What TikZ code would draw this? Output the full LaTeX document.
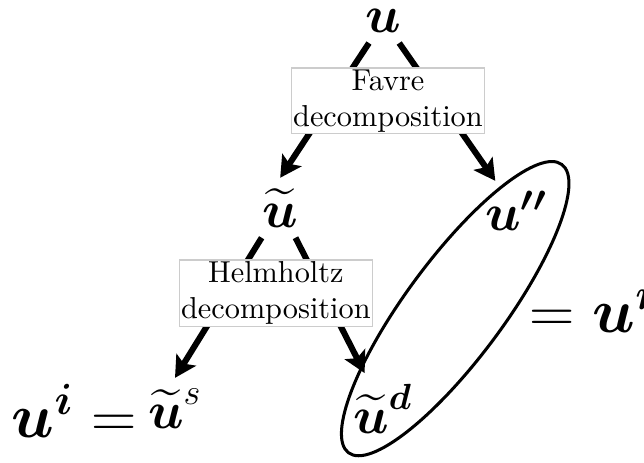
\documentclass[tikz,border=0pt]{standalone}
\usepackage{amsmath}
\usepackage{amssymb}
\usepackage{xcolor}
\usepackage{tikz}
\usetikzlibrary{shapes,arrows,arrows.meta,positioning,calc}

\begin{document}
\begin{tikzpicture}[>={Stealth[length=7pt,width=7.5pt,inset=1.5pt]}]
    \useasboundingbox (0,0) rectangle (7.47,5.36);

    % Velocities
    \node[font=\LARGE] (u) at (4.45,5.12) {$\boldsymbol{u}$};
    \node[font=\LARGE] (ut) at (3.25,2.95) {$\widetilde{\boldsymbol{u}}$};
    \node[font=\LARGE] (upp) at (5.99,2.91) {$\boldsymbol{u''}$};
    \node[font=\LARGE] (us) at (2.03,0.62) {$\widetilde{\boldsymbol{u}}^{s}$};
    \node[font=\LARGE] (ud) at (4.44,0.62) {$\widetilde{\boldsymbol{u}}^{\boldsymbol{d}}$};
    \node[font=\huge, anchor=base east, inner sep=0pt] (ui) at (1.59,0.29) {$\boldsymbol{u}^{\boldsymbol{i}} =$};

    % Arrows
    \draw[->, line width=2pt] (u) -- (ut.north);
    \draw[->, line width=2pt] (u) -- (upp);
    \draw[->, line width=2pt] (ut) -- (us.north);
    \draw[->, line width=2pt] (ut) -- (ud);

    % Decompositions
    \node[draw=gray!40, fill=white, align=center, inner sep=0.5pt] (favre) at (4.50,4.19) {Favre\\decomposition};
    \node[draw=gray!40, fill=white, align=center, inner sep=0.5pt] (helm) at (3.20,1.96) {Helmholtz\\decomposition};

    % Resolved part
    \node[draw, ellipse, line width=1pt, rotate=53.5, minimum width=4.16cm, minimum height=1.14cm] (ell) at (5.28,1.78) {};
    \node[font=\huge, anchor=base west, inner sep=0pt] (ur) at (6.14,1.50) {$= \boldsymbol{u}^{\boldsymbol{r}}$};
\end{tikzpicture}
\end{document}
